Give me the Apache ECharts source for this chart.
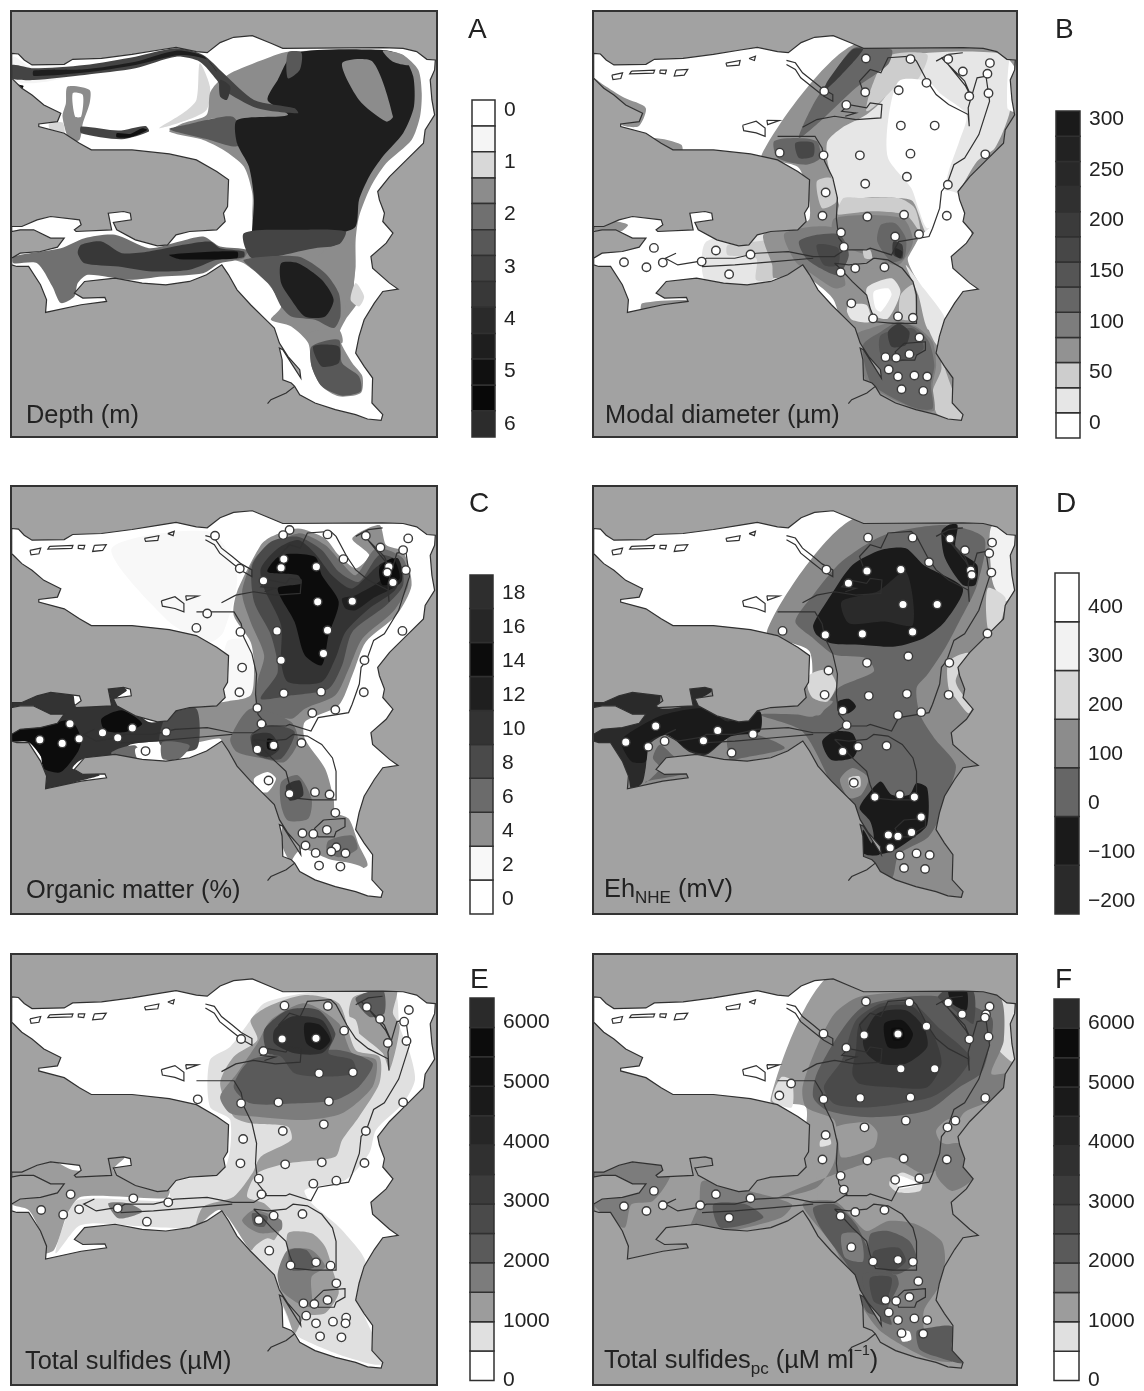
<!DOCTYPE html>
<html><head><meta charset="utf-8">
<script src="https://cdn.jsdelivr.net/npm/echarts@6/dist/echarts.min.js"></script>
<style>html,body{margin:0;padding:0;background:#fff}#c{width:1144px;height:1391px}</style>
</head><body><div id="c"></div>
<script>
// ---- shared estuary geometry (map units of panel A) ----
const estuaryOutline=[[35,160],[55,162],[72,180],[95,195],[190,193],[215,178],[300,175],[390,163],[470,150],[520,142],[580,155],[612,158],[650,128],[690,112],[745,107],[800,130],[835,145],[1130,143],[1190,145],[1230,155],[1260,178],[1285,180],[1283,210],[1270,240],[1275,300],[1283,345],[1255,390],[1250,430],[1200,480],[1150,530],[1115,575],[1120,600],[1135,640],[1130,665],[1160,700],[1140,730],[1095,770],[1100,805],[1150,850],[1175,868],[1130,875],[1105,910],[1075,960],[1060,1010],[1050,1060],[1075,1100],[1100,1135],[1098,1210],[1130,1245],[1125,1262],[1085,1258],[1050,1245],[990,1230],[930,1210],[885,1185],[870,1160],[860,1150],[835,1140],[833,1080],[825,1045],[835,1050],[860,1090],[888,1135],[885,1110],[850,1070],[825,1030],[810,985],[790,965],[740,915],[700,870],[675,825],[655,795],[610,825],[560,845],[490,855],[420,850],[340,835],[250,845],[220,880],[245,895],[310,893],[315,905],[240,915],[135,938],[138,900],[120,855],[85,800],[50,800],[35,795],[35,775],[60,760],[120,755],[170,742],[190,715],[150,715],[100,690],[60,690],[35,695],[35,680],[65,680],[110,660],[150,650],[235,660],[240,675],[220,690],[225,695],[330,690],[320,640],[365,635],[385,640],[388,660],[335,668],[345,690],[400,720],[465,738],[495,735],[520,705],[560,695],[640,690],[665,665],[660,640],[672,620],[675,540],[640,515],[580,480],[500,462],[390,450],[270,450],[235,430],[190,400],[115,380],[115,372],[170,365],[180,340],[130,315],[95,285],[65,265],[40,240],[35,235]];
const riverMouthLine=[[870,1160],[845,1180],[800,1200],[790,1212]];
// channel lines and islands (map units of panel B)
const channelNorthStrip=[[565,178],[590,185],[610,215],[640,240],[665,262],[695,280],[695,300],[670,285],[640,260],[605,230],[590,205],[565,190]];
const channelIsland=[[610,378],[650,355],[700,345],[760,355],[830,350],[833,310],[800,305],[790,320],[740,310],[720,330],[760,335],[730,345]];
const channelWestBank=[[540,405],[590,405],[645,405],[665,440],[672,480],[695,530],[708,590],[705,650],[712,710],[735,740],[700,765],[640,765],[570,750],[480,755],[420,770],[340,770],[328,778],[260,790],[225,770],[255,755]];
const channelMid=[[328,795],[420,790],[530,780],[640,770]];
const channelEastBank=[[780,270],[770,240],[800,205],[830,215],[850,170],[915,165],[930,180],[960,240],[985,280],[1020,310],[1075,340],[1078,375],[1075,320],[1100,230],[1125,225],[1135,300],[1120,350],[1105,400],[1065,470],[1035,490],[1015,550],[1000,570],[995,620],[975,680],[965,705],[880,720],[860,760],[800,740],[790,745],[730,745]];
const channelSouth=[[700,785],[740,790],[790,785],[810,770],[850,775],[890,800],[920,840],[930,880],[930,965],[865,965],[815,960],[800,920],[790,880],[750,840],[715,800],[700,785]];
const channelNE=[[1000,170],[1065,240],[1085,290],[1068,255],[1015,185]];
const channelNE2=[[985,180],[1020,160],[1060,155]];
const islandA=[[130,210],[195,207],[192,216],[125,218],[130,210]];
const islandB=[[255,207],[288,205],[278,222],[250,225],[255,207]];
const islandC=[[395,186],[435,178],[432,192],[398,195],[395,186]];
const islandD=[[442,372],[480,360],[505,380],[505,405],[480,395],[445,388],[442,372]];
const islandE=[[510,357],[545,358],[512,370],[510,357]];
const islandF=[[210,207],[228,207],[225,218],[210,216],[210,207]];
const islandG=[[895,1025],[955,1020],[955,1045],[930,1060],[925,1075],[880,1075],[870,1050],[895,1025]];
const islandH=[[460,172],[478,165],[475,178],[460,172]];
const islandI=[[75,222],[105,215],[100,232],[78,235],[75,222]];
const channelLines=[channelNorthStrip,channelIsland,channelWestBank,channelMid,channelEastBank,channelSouth,channelNE,channelNE2,islandA,islandB,islandC,islandD,islandE,islandF,islandG,islandH,islandI];

// ---- panel A: depth, band = [level, polygon] ----
const depthBands=[
[1,[[40,170],[90,200],[190,200],[200,230],[100,250],[40,240]]],
[2,[[590,190],[620,260],[610,330],[540,365],[470,385],[540,340],[580,300]]],
[3,[[690,215],[800,170],[850,155],[1130,150],[1190,165],[1235,210],[1245,280],[1240,350],[1215,420],[1140,490],[1095,560],[1060,650],[1050,720],[1050,800],[1045,860],[1060,900],[1020,960],[1000,1010],[1040,1090],[1070,1130],[1065,1180],[1000,1190],[950,1160],[920,1100],[910,1030],[860,980],[800,960],[830,920],[790,850],[720,790],[660,770],[740,750],[745,640],[745,580],[720,500],[660,450],[600,420],[500,395],[540,370],[610,345],[620,280],[640,250]]],
[2,[[612,360],[660,358],[660,380],[612,382]]],
[3,[[200,260],[265,270],[265,310],[245,370],[235,420],[205,420],[185,350],[195,310]]],
[0,[[215,280],[245,285],[240,350],[222,350]]],
[2,[[145,372],[185,368],[190,402],[150,392]]],
[4,[[40,770],[180,745],[250,715],[340,705],[440,745],[530,725],[600,710],[650,740],[730,750],[720,775],[650,790],[600,820],[480,830],[380,840],[260,825],[230,850],[220,890],[180,910],[155,860],[110,790],[40,790]]],
[7,[[240,735],[300,725],[360,760],[440,755],[540,735],[620,725],[650,745],[720,755],[720,772],[640,780],[560,810],[450,815],[350,800],[250,790],[230,760]]],
[10,[[500,765],[700,755],[700,775],[530,778]]],
[5,[[500,388],[560,372],[610,360],[690,352],[720,430],[690,440],[620,420]]],
[9,[[820,240],[870,160],[1130,150],[1190,170],[1220,230],[1222,320],[1190,400],[1130,470],[1090,530],[1060,600],[1050,680],[1000,700],[900,700],[780,700],[745,730],[750,600],[735,500],[700,430],[700,360],[850,345],[790,300]]],
[3,[[1010,190],[1100,185],[1160,350],[1140,365],[1060,300]]],
[3,[[1130,152],[1190,165],[1210,195],[1160,185]]],
[5,[[850,158],[890,158],[885,210],[850,235]]],
[6,[[35,195],[100,205],[250,195],[400,170],[520,145],[600,165],[660,220],[750,300],[870,325],[880,340],[760,325],[660,270],[640,240],[590,185],[520,170],[400,205],[250,225],[100,240],[35,235]]],
[9,[[100,212],[250,208],[400,185],[520,152],[600,168],[640,215],[610,178],[530,165],[400,195],[250,218],[100,228]]],
[7,[[650,240],[680,260],[670,300],[650,290]]],
[11,[[50,255],[70,258],[60,272]]],
[6,[[240,380],[350,392],[430,378],[440,395],[360,418],[240,400]]],
[10,[[345,400],[385,402],[420,385],[435,390],[385,412],[345,412]]],
[6,[[720,700],[880,690],[1020,695],[1000,735],[930,745],[745,775]]],
[3,[[960,750],[1040,730],[1045,850],[1020,920],[1005,980],[985,900],[960,830],[930,790]]],
[2,[[1050,850],[1075,890],[1060,920],[1035,900]]],
[5,[[720,780],[760,820],[800,860],[830,920],[860,950],[930,960],[985,985],[1005,950],[1000,880],[960,820],[880,770]]],
[9,[[830,790],[880,790],[950,840],[985,900],[960,950],[900,950],[860,900],[830,850]]],
[3,[[910,1000],[1000,990],[1010,1030],[920,1040]]],
[5,[[920,1040],[1000,1020],[1010,1090],[1060,1130],[1065,1175],[1010,1188],[950,1160],[920,1100]]],
[7,[[925,1040],[1000,1040],[1000,1090],[950,1100]]]
];
const depthTicks=[0,1,2,3,4,5,6];
const depthEdges=[-0.19,0.305,0.80,1.30,1.79,2.29,2.78,3.28,3.77,4.27,4.76,5.26,5.75,6.25];

// ---- panel B: modal diameter ----
const diameterBands=[
[3,[[755,130],[1215,130],[1215,1300],[800,1300],[700,900],[600,800],[560,700],[630,650],[600,500],[495,462]]],
[1,[[880,165],[1180,160],[1200,250],[1190,340],[1150,440],[1100,480],[1050,570],[990,680],[960,700],[920,600],[880,590],[780,590],[720,620],[700,560],[680,480],[680,420],[720,380],[790,340],[840,290],[860,220]]],
[2,[[850,165],[960,160],[930,240],[880,250],[830,300],[790,330],[800,270]]],
[2,[[650,540],[690,530],[705,600],[665,620]]],
[0,[[850,360],[880,240],[960,240],[1000,280],[1070,340],[1050,420],[1020,510],[1010,560],[1000,650],[960,680],[935,620],[915,560],[850,470]]],
[0,[[1000,570],[1050,580],[1085,700],[1110,860],[1045,960],[1005,960],[940,850],[905,770],[945,700],[985,660]]],
[0,[[1190,180],[1205,200],[1205,330],[1185,320]]],
[1,[[900,790],[950,860],[1010,950],[990,990],[960,980],[935,880]]],
[5,[[755,140],[860,145],[850,190],[760,260],[670,350],[600,410],[640,310],[700,215]]],
[8,[[750,145],[780,145],[720,220],[670,270],[680,240]]],
[2,[[725,590],[780,590],[880,590],[925,620],[940,690],[900,640],[800,630],[710,640]]],
[3,[[640,640],[710,640],[800,630],[890,640],[935,700],[910,760],[880,800],[760,790],[700,720]]],
[4,[[700,650],[890,650],[920,720],[880,790],[820,770],[700,720]]],
[5,[[830,670],[870,665],[900,710],[895,770],[860,780],[820,720]]],
[8,[[865,720],[890,730],[890,770],[865,760]]],
[10,[[870,740],[890,750],[885,770],[870,760]]],
[1,[[340,720],[530,700],[530,830],[340,840]]],
[2,[[400,730],[480,720],[510,720],[530,830],[480,835],[480,770],[400,760]]],
[3,[[500,700],[570,690],[600,800],[530,830],[525,790]]],
[3,[[22,640],[30,690],[100,690],[120,670],[70,655]]],
[4,[[560,695],[700,680],[720,800],[730,850],[700,860],[640,820],[590,780]]],
[6,[[600,720],[650,700],[715,700],[740,760],[710,820],[660,800],[620,770]]],
[7,[[650,730],[710,740],[710,790],[670,790]]],
[2,[[780,745],[800,745],[805,770],[785,770]]],
[1,[[790,860],[860,830],[885,870],[850,950],[810,940]]],
[0,[[810,870],[850,860],[860,880],[830,930],[815,920]]],
[2,[[885,880],[920,850],[925,950],[885,950]]],
[1,[[740,910],[790,910],[800,960],[750,955],[735,930]]],
[2,[[985,990],[1010,1100],[1040,1190],[1065,1260],[990,1240],[975,1170],[1000,1100]]],
[1,[[960,960],[1010,960],[1000,1040],[980,1020]]],
[4,[[760,1000],[800,980],[870,960],[930,975],[975,1020],[985,1090],[975,1150],[980,1225],[940,1225],[850,1185],[790,1140]]],
[5,[[780,1030],[830,990],[880,960],[930,980],[965,1020],[980,1090],[970,1150],[975,1220],[930,1220],[850,1180],[800,1140]]],
[6,[[830,1000],[920,980],[950,1040],[880,1080],[830,1060]]],
[8,[[850,990],[880,965],[910,990],[900,1030],[860,1035]]],
[5,[[530,420],[590,410],[650,420],[660,470],[620,490],[540,470]]],
[7,[[590,425],[640,425],[640,465],[600,470]]],
[3,[[100,370],[150,375],[170,320],[110,290],[50,250],[22,230],[22,260],[100,330]]],
[3,[[190,410],[270,430],[270,460],[190,440]]],
[3,[[160,905],[290,895],[290,910],[160,935]]]
];
const diameterTicks=[0,50,100,150,200,250,300];
const diameterEdges=[-14.5,10.3,35.1,59.9,84.7,109.5,134.3,159.1,183.9,208.7,233.5,258.3,283.1,308];
const diameterSites=[[788,172],[913,174],[1019,174],[1136,186],[1060,211],[1129,218],[958,245],[880,267],[671,270],[786,273],[1132,276],[1078,285],[733,311],[886,373],[981,373],[913,457],[771,462],[669,462],[546,454],[1123,459],[903,526],[786,547],[1018,550],[675,573],[666,643],[792,646],[895,640],[1015,643],[718,693],[870,705],[937,698],[726,736],[193,739],[367,747],[464,759],[327,780],[109,782],[218,783],[172,797],[404,818],[717,812],[758,800],[840,797],[747,905],[808,950],[878,944],[920,948],[938,1007],[843,1066],[873,1068],[910,1057],[852,1103],[878,1124],[924,1121],[960,1124],[888,1162],[949,1167]];

// ---- panel C: organic matter ----
const organicBands=[
[1,[[330,220],[620,170],[700,300],[660,470],[620,500],[500,440]]],
[1,[[670,500],[745,500],[750,660],[660,680]]],
[2,[[770,210],[800,185],[880,160],[960,190],[1000,240],[1050,280],[1090,240],[1040,190],[1120,150],[1140,210],[1190,230],[1215,330],[1170,420],[1080,500],[1040,600],[1000,690],[900,740],[900,790],[960,880],[985,970],[990,1010],[1030,1030],[1060,1110],[1085,1170],[1030,1185],[980,1160],[900,1140],[860,1160],[830,1100],[830,1040],[730,920],[670,830],[650,790],[560,800],[560,700],[660,680],[740,660],[750,570],[740,500],[690,420],[700,350]]],
[0,[[750,910],[790,890],[815,910],[790,950],[760,945]]],
[3,[[760,240],[880,175],[960,210],[1010,265],[1050,300],[1110,220],[1190,250],[1205,330],[1160,410],[1070,490],[1030,580],[990,660],[900,700],[860,730],[760,700],[760,620],[780,540],[740,440],[715,350]]],
[3,[[680,790],[740,700],[860,740],[880,800],[840,860],[780,850],[700,830]]],
[4,[[745,270],[800,200],[880,185],[950,225],[1000,290],[1060,320],[1120,240],[1180,260],[1190,330],[1140,390],[1040,470],[1010,570],[970,640],[860,660],[770,670],[820,590],[800,480],[750,380]]],
[4,[[740,780],[800,750],[870,770],[830,850],[760,840]]],
[5,[[770,280],[820,220],[880,195],[930,235],[980,300],[1040,340],[1120,270],[1170,270],[1170,340],[1090,400],[1020,470],[990,550],[950,620],[850,620],[830,560],[830,450],[780,340]]],
[7,[[790,290],[830,240],[930,245],[950,300],[1000,380],[970,480],[950,570],[900,540],[870,440],[820,340],[890,325],[880,300]]],
[6,[[1010,370],[1050,360],[1130,310],[1120,270],[1175,250],[1185,320],[1100,370],[1050,405],[1020,400]]],
[7,[[1120,280],[1160,250],[1180,310],[1130,330]]],
[5,[[745,780],[800,775],[825,820],[790,845],[750,830]]],
[7,[[790,790],[820,800],[815,825],[790,820]]],
[3,[[830,920],[880,900],[920,970],[910,1030],[850,1035],[830,990]]],
[5,[[845,930],[885,915],[895,960],[855,975]]],
[3,[[970,1095],[1040,1080],[1055,1120],[1000,1145],[965,1125]]],
[0,[[860,1170],[890,1120],[970,1150],[1070,1175],[1120,1260],[980,1230]]],
[5,[[33,670],[100,650],[150,640],[215,655],[225,690],[320,685],[310,640],[340,625],[375,645],[345,670],[395,705],[440,740],[500,740],[500,790],[440,800],[380,810],[340,860],[250,850],[230,860],[215,880],[295,898],[240,915],[135,940],[120,900],[130,860],[85,800],[33,795]]],
[7,[[33,755],[150,745],[210,735],[240,790],[230,830],[180,890],[130,880],[120,840],[85,800],[33,795]]],
[7,[[300,730],[360,705],[420,745],[370,770],[310,765]]],
[4,[[490,720],[530,695],[580,700],[590,760],[580,820],[500,830],[470,800]]],
[3,[[330,830],[400,810],[420,860],[340,860]]],
[3,[[480,800],[560,810],[530,850],[480,850]]],
[0,[[400,820],[450,810],[470,850],[410,855]]]
];
const organicTicks=[0,2,4,6,8,10,12,14,16,18];
const organicEdges=[-0.89,1.11,3.1,5.1,7.1,9.1,11.1,13.1,15.1,17.1,19.08];
const organicSites=[[635,182],[855,165],[836,180],[967,178],[1080,182],[1205,190],[1123,217],[1190,225],[838,252],[1014,252],[830,278],[934,275],[1148,275],[708,280],[1143,292],[1198,285],[778,317],[1160,322],[938,380],[1040,378],[612,415],[580,458],[818,467],[967,465],[710,470],[1188,467],[955,535],[830,555],[1076,555],[715,577],[707,651],[838,654],[948,649],[1074,651],[760,698],[990,703],[922,713],[772,745],[207,745],[391,758],[303,772],[491,770],[118,793],[234,790],[348,787],[184,804],[430,827],[760,822],[808,810],[890,803],[793,915],[855,955],[930,950],[973,957],[990,1012],[965,1063],[893,1073],[925,1075],[902,1110],[993,1115],[978,1128],[1020,1133],[932,1132],[942,1170],[1005,1173]];

// ---- panel D: redox potential ----
const redoxBands=[
[3,[[755,130],[1215,130],[1215,1310],[800,1310],[600,800],[490,700],[620,680],[630,530],[510,470]]],
[3,[[22,630],[620,630],[620,900],[22,960]]],
[2,[[590,440],[640,360],[720,260],[840,180],[1010,150],[1120,190],[1100,330],[1050,440],[1010,520],[960,600],[930,640],[940,720],[980,790],[1040,870],[1020,950],[990,1040],[960,1090],[880,1140],[860,1210],[790,1160],[700,950],[610,770],[490,720],[630,720],[660,720],[710,640],[810,590],[790,550],[700,540],[640,490]]],
[1,[[640,450],[690,360],[750,270],[830,225],[900,220],[950,270],[1060,340],[1010,440],[950,490],[870,515],[780,510],[690,505],[650,480]]],
[0,[[720,380],[820,350],[900,290],[920,450],[840,440],[740,445]]],
[1,[[1000,170],[1020,150],[1045,150],[1040,220],[1100,270],[1095,330],[1060,330],[1010,250]]],
[1,[[710,680],[740,672],[760,695],[740,715],[710,710]]],
[1,[[665,800],[700,770],[750,775],[765,820],[750,850],[690,855]]],
[1,[[770,1000],[800,950],[830,920],[860,960],[910,960],[930,925],[960,940],[960,1050],[920,1090],[860,1130],[790,1140],[810,1090],[800,1040]]],
[1,[[780,1065],[800,1100],[825,1140],[780,1135]]],
[0,[[22,680],[130,645],[210,660],[210,700],[290,690],[295,645],[345,630],[355,650],[315,680],[400,720],[470,730],[490,770],[400,790],[340,840],[290,830],[230,780],[180,810],[170,880],[160,925],[130,945],[120,900],[80,820],[22,795]]],
[1,[[130,770],[220,720],[340,700],[400,740],[490,710],[490,770],[400,790],[340,835],[290,825],[230,780],[180,800],[170,860],[130,860],[100,800]]],
[2,[[170,925],[210,880],[190,850],[210,810],[270,860],[400,860],[400,790],[480,780],[560,820],[440,850],[270,900],[170,920]]],
[3,[[715,915],[750,880],[795,910],[775,960],[740,970]]],
[4,[[740,910],[770,905],[772,935],[745,940]]],
[3,[[570,700],[620,680],[695,680],[640,725],[590,715]]],
[4,[[630,600],[680,585],[705,630],[680,680],[640,670],[625,640]]],
[4,[[1020,560],[1075,535],[1040,620],[1085,700],[1075,715],[1040,670],[1020,640]]],
[5,[[1140,155],[1205,180],[1205,340],[1180,380],[1150,340],[1140,300]]],
[4,[[1130,340],[1180,370],[1155,470],[1130,460]]]
];
const redoxTicks=[-200,-100,0,100,200,300,400];
const redoxEdges=[-227,-127.6,-28.1,71.3,170.7,270.1,369.6,469];
const redoxSites=[[794,188],[919,188],[1024,191],[1142,203],[1066,226],[1134,235],[965,262],[677,284],[791,288],[886,284],[1082,286],[1140,293],[1085,300],[739,325],[892,389],[988,389],[919,471],[778,477],[674,480],[554,468],[1129,476],[907,544],[791,564],[1022,564],[683,587],[672,660],[796,663],[903,657],[1020,660],[723,707],[878,721],[943,712],[734,751],[198,754],[372,767],[471,778],[332,798],[114,802],[223,799],[177,816],[411,834],[723,830],[766,816],[846,813],[754,924],[813,967],[883,960],[924,967],[943,1027],[851,1081],[878,1085],[916,1073],[856,1119],[883,1142],[930,1136],[967,1141],[895,1180],[954,1183]];

// ---- panel E: total sulfides ----
const sulfideBands=[
[1,[[620,360],[680,320],[740,240],[780,190],[900,160],[1160,150],[1180,260],[1210,340],[1225,420],[1190,490],[1110,570],[1090,640],[1020,720],[900,750],[920,790],[1000,860],[1060,930],[1080,970],[1060,1080],[1130,1270],[1020,1250],[880,1190],[860,1160],[830,1090],[740,930],[650,810],[580,860],[430,860],[280,850],[230,860],[165,940],[190,850],[230,780],[500,780],[500,730],[660,690],[680,540],[620,500]]],
[2,[[33,680],[150,660],[215,690],[310,690],[320,650],[370,650],[335,690],[400,730],[500,750],[490,775],[240,770],[200,820],[160,930],[120,940],[120,880],[85,810],[33,790]]],
[2,[[650,430],[690,350],[760,300],[740,240],[790,200],[900,165],[1000,190],[1050,330],[1120,350],[1120,430],[1060,530],[1010,600],[990,650],[850,670],[760,700],[730,770],[780,790],[830,850],[810,900],[760,920],[740,930],[650,810],[580,860],[600,800],[690,770],[745,700],[770,650],[860,600],[850,560],[740,550],[690,530]]],
[2,[[1045,170],[1170,150],[1160,220],[1180,260],[1150,390],[1130,340],[1050,270],[1030,220]]],
[1,[[1020,230],[1050,240],[1060,290],[1040,280]]],
[2,[[850,880],[920,880],[960,920],[985,1000],[1000,1060],[960,1120],[900,1130],[870,1180],[850,1130],[825,1060],[850,980]]],
[1,[[745,930],[790,895],[830,920],[800,960],[770,970]]],
[3,[[650,470],[700,400],[760,310],[800,240],[900,190],[1000,250],[1040,340],[1110,360],[1100,440],[1010,520],[900,540],[760,530],[680,520]]],
[4,[[690,440],[740,360],[880,340],[1000,330],[1100,370],[1060,440],[990,480],[880,490],[740,490]]],
[5,[[780,270],[850,210],[940,210],[990,280],[970,340],[1040,360],[1050,400],[950,410],[870,400],[830,350],[790,340]]],
[7,[[810,270],[860,230],[950,240],[980,300],[950,340],[870,340],[810,310]]],
[9,[[900,250],[945,255],[975,300],[945,330],[905,310]]],
[3,[[820,1000],[850,930],[920,930],[960,980],[920,1010],[920,1100],[880,1090],[830,1050]]],
[4,[[855,930],[905,930],[930,980],[860,990]]],
[3,[[715,840],[750,810],[830,840],[830,870],[770,880],[730,860]]],
[4,[[745,820],[790,830],[780,860],[750,855]]],
[4,[[1050,175],[1130,150],[1135,220],[1090,230]]],
[3,[[320,790],[380,790],[420,815],[350,835]]]
];
const sulfideTicks=[0,1000,2000,3000,4000,5000,6000];
const sulfideEdges=[0,493,987,1480,1974,2467,2960,3454,3947,4441,4934,5427,5921,6414];
const sulfideSites=[[840,197],[968,198],[1083,201],[1207,210],[1122,237],[1193,245],[1016,272],[833,297],[933,295],[712,297],[1145,309],[1200,303],[778,333],[942,400],[1042,397],[584,478],[712,490],[822,487],[971,484],[1190,487],[956,553],[835,573],[1080,573],[718,597],[710,670],[842,673],[950,667],[1076,669],[764,716],[993,722],[925,731],[772,763],[209,763],[394,775],[497,787],[348,805],[122,810],[234,808],[187,824],[434,845],[764,840],[808,827],[893,822],[795,932],[858,976],[933,967],[976,977],[993,1030],[967,1080],[896,1090],[928,1092],[904,1127],[1022,1133],[983,1145],[1020,1150],[933,1150],[945,1189],[1008,1192]];

// ---- panel F: total sulfides pc ----
const sulfidePcBands=[
[2,[[695,100],[1215,100],[1215,1310],[600,1310],[600,790],[640,700],[600,690],[620,500],[520,480]]],
[2,[[22,640],[620,640],[620,900],[22,960]]],
[1,[[525,480],[550,410],[580,420],[580,500]]],
[1,[[1150,170],[1205,190],[1205,365],[1170,340],[1140,290],[1160,230]]],
[3,[[610,440],[650,320],[700,220],[770,170],[950,155],[1160,165],[1175,300],[1140,400],[1190,400],[1160,470],[1060,520],[1020,650],[1000,680],[950,700],[860,650],[780,670],[700,700],[540,770],[650,740],[700,660],[700,540],[620,500]]],
[2,[[700,560],[790,545],[820,575],[810,620],[720,650],[710,600]]],
[2,[[985,570],[1020,535],[1050,550],[1050,610],[1000,605]]],
[3,[[1000,620],[1060,610],[1090,710],[1030,750],[985,700]]],
[4,[[640,470],[650,400],[720,270],[780,200],[900,170],[1000,170],[1140,230],[1130,340],[1110,400],[1050,440],[960,510],[800,530],[680,510]]],
[5,[[670,440],[720,360],[760,240],[830,190],[920,190],[990,260],[1080,350],[1040,420],[970,470],[800,500],[700,490]]],
[6,[[750,400],[760,330],[770,250],[830,200],[920,200],[980,290],[1000,370],[960,440],[860,440],[770,430]]],
[8,[[780,300],[820,220],[900,210],[950,260],[960,320],[900,370],[830,370],[790,340]]],
[10,[[840,250],[890,240],[920,280],[900,320],[850,320]]],
[11,[[860,265],[890,265],[895,295],[865,300]]],
[5,[[990,170],[1030,140],[1090,155],[1090,250],[1060,230],[1020,195]]],
[9,[[1020,150],[1070,150],[1070,210],[1030,190]]],
[3,[[22,680],[60,680],[130,650],[200,660],[240,700],[190,780],[130,790],[110,860],[30,800],[22,775]]],
[3,[[330,720],[460,750],[580,790],[550,830],[380,875],[295,870],[320,790]]],
[4,[[360,790],[450,790],[500,830],[380,860]]],
[3,[[610,790],[700,780],[750,830],[790,870],[850,840],[930,850],[1000,900],[1010,960],[990,1040],[950,1110],[960,1200],[1030,1260],[960,1250],[830,1170],[780,1100],[700,920]]],
[4,[[640,800],[700,790],[760,850],[800,930],[860,980],[850,1060],[830,1120],[790,1110],[740,980],[660,860]]],
[3,[[720,880],[770,880],[780,960],[730,950]]],
[4,[[800,880],[850,870],[910,900],[930,960],[870,1000],[800,950]]],
[5,[[810,930],[880,920],[900,960],[860,990],[810,970]]],
[4,[[780,1000],[870,1000],[880,1030],[850,1100],[860,1150],[810,1120]]],
[5,[[800,1010],[860,1010],[840,1090],[810,1080]]],
[4,[[960,1160],[1030,1155],[1030,1220],[1060,1265],[1000,1250],[940,1225],[930,1170]]],
[1,[[855,720],[890,695],[945,725],[940,750],[880,755],[855,735]]],
[0,[[880,705],[935,730],[880,742]]],
[1,[[660,600],[685,590],[690,610],[660,618]]],
[0,[[885,1170],[910,1170],[915,1195],[890,1200]]]
];
const sulfidePcSites=[[788,184],[910,187],[1019,187],[1135,199],[1058,222],[1125,222],[1122,232],[958,258],[669,280],[783,284],[878,281],[1132,289],[1078,297],[733,322],[886,385],[981,385],[578,429],[913,470],[772,472],[669,476],[545,465],[1123,472],[900,540],[1039,540],[784,560],[1017,560],[675,583],[666,656],[792,659],[894,653],[1015,656],[717,705],[870,717],[938,712],[726,746],[193,750],[367,760],[464,772],[323,793],[109,796],[218,793],[172,810],[404,830],[717,825],[758,813],[840,807],[747,918],[808,961],[878,956],[920,962],[935,1020],[843,1076],[873,1079],[910,1067],[852,1113],[878,1136],[924,1131],[960,1136],[888,1175],[949,1177]];

// ---- colour ramps, lowest value first ----
const rampA=['#ffffff','#f5f5f5','#d8d8d8','#8c8c8c','#707070','#585858','#444444','#383838','#2a2a2a','#1e1e1e','#101010','#080808','#2c2c2c'];
const rampB=['#ffffff','#e6e6e6','#cdcdcd','#929292','#7d7d7d','#666666','#555555','#474747','#3b3b3b','#303030','#282828','#222222','#1a1a1a'];
const rampC=['#ffffff','#f8f8f8','#8f8f8f','#6b6b6b','#4a4a4a','#333333','#1f1f1f','#0c0c0c','#262626','#2e2e2e'];
const rampD=['#2a2a2a','#1a1a1a','#666666','#8c8c8c','#d8d8d8','#f2f2f2','#ffffff'];
const rampE=['#ffffff','#e0e0e0','#9c9c9c','#7c7c7c','#5a5a5a','#4a4a4a','#3c3c3c','#303030','#262626','#1a1a1a','#121212','#0c0c0c','#2a2a2a'];

// ---- layout ----
const SW={x0:33,x1:1290,y0:33,y1:1312};          // frame of estuaryOutline units
const SE={x0:22,x1:1212,y0:30,y1:1305};          // frame of channel units
function remap(pts,from,to){
  return pts.map(p=>[to.x0+(p[0]-from.x0)*(to.x1-to.x0)/(from.x1-from.x0),
                     to.y0+(p[1]-from.y0)*(to.y1-to.y0)/(from.y1-from.y0)]);
}
const panels=[
 {name:'A',box:[11,11,426,426],frame:SW,bands:depthBands,ramp:rampA,sites:null,
  bar:[472,100,23,337],edges:depthEdges,ticks:depthTicks,inverse:true,letter:[468,16],label:[26,403],text:'Depth (m)'},
 {name:'B',box:[593,11,424,426],frame:SE,bands:diameterBands,ramp:rampB,sites:diameterSites,
  bar:[1056,111,24,327],edges:diameterEdges,ticks:diameterTicks,letter:[1055,16],label:[605,403],text:'Modal diameter (µm)'},
 {name:'C',box:[11,486,426,428],frame:{x0:33,x1:1290,y0:33,y1:1315},bands:organicBands,ramp:rampC,sites:organicSites,
  bar:[470,575,23,339],edges:organicEdges,ticks:organicTicks,letter:[469,490],label:[26,878],text:'Organic matter (%)'},
 {name:'D',box:[593,486,424,428],frame:{x0:22,x1:1212,y0:33,y1:1318},bands:redoxBands,ramp:rampD,base:'#ffffff',sites:redoxSites,
  bar:[1055,573,24,341],edges:redoxEdges,ticks:redoxTicks,letter:[1056,490],label:[604,873],text:'{n|Eh}{sub|NHE}{n| (mV)}'},
 {name:'E',box:[11,954,426,431],frame:{x0:33,x1:1290,y0:42,y1:1335},bands:sulfideBands,ramp:rampE,sites:sulfideSites,
  bar:[470,998,24,388],edges:sulfideEdges,ticks:sulfideTicks,letter:[470,966],label:[25,1349],text:'Total sulfides (µM)'},
 {name:'F',box:[593,954,424,431],frame:{x0:22,x1:1212,y0:42,y1:1330},bands:sulfidePcBands,ramp:rampE,sites:sulfidePcSites,
  bar:[1054,999,25,387],edges:sulfideEdges,ticks:sulfideTicks,letter:[1055,966],label:[604,1344],text:'{n|Total sulfides}{sub|pc}{n| (µM ml}{sup|−1}{n|)}'}
];
const FONT='"Liberation Sans",Arial,sans-serif', INK='#222';
const grid=[],xAxis=[],yAxis=[],series=[],title=[];
const rich={n:{fontFamily:FONT,fontSize:25.4,color:INK,verticalAlign:'middle',lineHeight:34},
  sub:{fontFamily:FONT,fontSize:17,color:INK,verticalAlign:'bottom',lineHeight:17},
  sup:{fontFamily:FONT,fontSize:14,color:INK,verticalAlign:'top',lineHeight:14}};

panels.forEach(p=>{
  const idx=grid.length;
  grid.push({left:p.box[0],top:p.box[1],width:p.box[2],height:p.box[3],show:true,backgroundColor:'#a2a2a2',borderColor:'#333',borderWidth:2});
  xAxis.push({type:'value',gridIndex:idx,show:false,min:p.frame.x0,max:p.frame.x1});
  yAxis.push({type:'value',gridIndex:idx,show:false,inverse:true,min:p.frame.y0,max:p.frame.y1});
  const outline=remap(estuaryOutline,SW,p.frame);
  const toPx=(api,pts)=>pts.map(q=>api.coord(q));
  series.push({type:'custom',xAxisIndex:idx,yAxisIndex:idx,clip:false,silent:true,z:2,animation:false,
    data:[[0,0,-1]].concat(p.bands.map((b,i)=>[b[1][0][0],b[1][0][1],i])),
    renderItem:(params,api)=>{
      const i=api.value(2);
      const clip=toPx(api,outline);
      if(i<0) return {type:'polygon',shape:{points:clip},style:{fill:p.base||p.ramp[0]}};
      const b=p.bands[i];
      return {type:'polygon',shape:{points:toPx(api,b[1]),smooth:0.25},style:{fill:p.ramp[b[0]]},
        clipPath:{type:'polygon',shape:{points:clip}}};
    }});
  const strokes=[outline,remap(riverMouthLine,SW,p.frame)];
  if(p.sites) channelLines.forEach(c=>strokes.push(remap(c,SE,p.frame)));
  series.push({type:'custom',xAxisIndex:idx,yAxisIndex:idx,clip:false,silent:true,z:3,animation:false,
    data:strokes.map((s,i)=>[s[0][0],s[0][1],i]),
    renderItem:(params,api)=>{
      const i=api.value(2);
      const pts=toPx(api,strokes[i]);
      return {type:i==0?'polygon':'polyline',shape:{points:pts},style:{fill:'none',stroke:'#303030',lineWidth:1.2}};
    }});
  if(p.sites) series.push({type:'scatter',xAxisIndex:idx,yAxisIndex:idx,z:4,silent:true,animation:false,clip:false,
    data:p.sites,symbol:'circle',symbolSize:8.5,itemStyle:{color:'#fff',borderColor:'#3a3a3a',borderWidth:1.4,opacity:1}});

  // colour bar
  const k=grid.length;
  grid.push({left:p.bar[0],top:p.bar[1],width:p.bar[2],height:p.bar[3]});
  xAxis.push({type:'value',gridIndex:k,show:false,min:0,max:1});
  yAxis.push({type:'value',gridIndex:k,position:'right',inverse:!!p.inverse,min:p.edges[0],max:p.edges[p.edges.length-1],
    axisLine:{show:false},axisTick:{show:false},splitLine:{show:false},
    axisLabel:{show:true,customValues:p.ticks,margin:9,fontFamily:FONT,fontSize:21,color:INK,
      formatter:v=>String(v).replace('-','−')}});
  series.push({type:'custom',xAxisIndex:k,yAxisIndex:k,clip:false,silent:true,animation:false,
    data:p.edges.slice(0,-1).map((e,i)=>[e,p.edges[i+1],i]),
    renderItem:(params,api)=>{
      const a=api.coord([0,api.value(0)]),b=api.coord([1,api.value(1)]);
      return {type:'rect',shape:{x:a[0],y:Math.min(a[1],b[1]),width:b[0]-a[0],height:Math.abs(b[1]-a[1])},
        style:{fill:p.ramp[api.value(2)],stroke:'#303030',lineWidth:1.5}};
    }});
  title.push({text:p.name,left:p.letter[0],top:p.letter[1],padding:0,textStyle:{fontFamily:FONT,fontSize:28,fontWeight:'normal',color:INK}});
  title.push({text:p.text,left:p.label[0],top:p.label[1],padding:0,textStyle:{fontFamily:FONT,fontSize:25.4,fontWeight:'normal',color:INK,rich}});
});
const chart=echarts.init(document.getElementById('c'),null,{renderer:'canvas'});
chart.setOption({animation:false,backgroundColor:'#fff',title,grid,xAxis,yAxis,series});
</script></body></html>
